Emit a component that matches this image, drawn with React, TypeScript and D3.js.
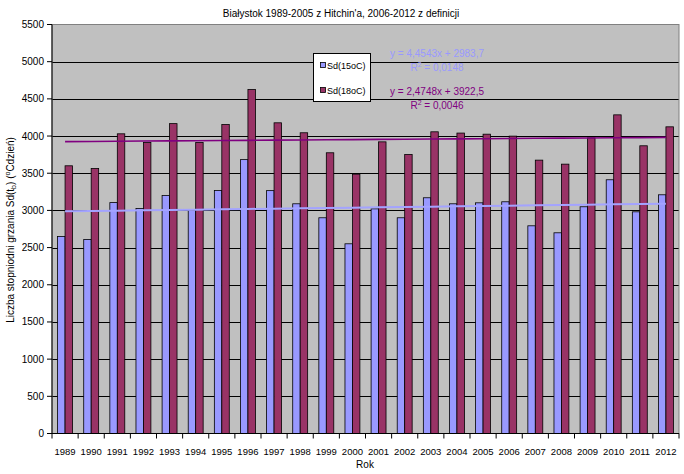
import React from "react";
import * as d3 from "d3";

const years = ["1989", "1990", "1991", "1992", "1993", "1994", "1995", "1996", "1997", "1998", "1999", "2000",
  "2001", "2002", "2003", "2004", "2005", "2006", "2007", "2008", "2009", "2010", "2011", "2012"];
const sd15 = [2650, 2610, 3105, 3026, 3201, 3005, 3268, 3683, 3266, 3089, 2901, 2551,
  3021, 2901, 3170, 3089, 3102, 3116, 2793, 2699, 3049, 3412, 2981, 3210];
const sd18 = [3600, 3564, 4030, 3913, 4167, 3913, 4155, 4626, 4178, 4044, 3775, 3487,
  3922, 3752, 4057, 4040, 4025, 3999, 3676, 3622, 3976, 4285, 3869, 4124];
const seriesNames = ["Sd(15oC)", "Sd(18oC)"];
const slopes = [4.4543, 2.4748];
const intercepts = [2983.7, 3922.5];
const equations = ["y = 4,4543x + 2983,7", "y = 2,4748x + 3922,5"];
const r2 = ["0,0148", "0,0046"];
const yTicks = [0, 500, 1000, 1500, 2000, 2500, 3000, 3500, 4000, 4500, 5000, 5500];

const W = 684;
const H = 474;
const left = 52;
const right = 679;
const top = 24.5;
const bottom = 433.5;
const font = "'Liberation Sans', Arial, sans-serif";
const colors = ["#9999FF", "#993366"];
const trendColors = ["#A3A3FF", "#800080"];
const textColors = ["#9999FF", "#800080"];

export default function App() {
  const x = d3.scaleBand<string>().domain(years).range([left, right]);
  const inner = d3
    .scaleBand<number>()
    .domain([0, 1])
    .range([0, x.bandwidth()])
    .paddingInner(0)
    .paddingOuter(0.75);
  const y = d3.scaleLinear().domain([0, 5500]).range([bottom, top]);
  const data = [sd15, sd18];

  const trend = (s: number) =>
    d3
      .line<string>()
      .x((d) => (x(d) as number) + x.bandwidth() / 2)
      .y((d, i) => y(slopes[s] * (i + 1) + intercepts[s]))(years) as string;

  return (
    <svg
      width={W}
      height={H}
      style={{ position: "absolute", left: 0, top: 0, background: "#fff" }}
      fontFamily={font}
    >
      <rect x={left} y={top} width={right - left} height={bottom - top} fill="#C0C0C0" />
      {yTicks.slice(1, -1).map((t) => (
        <line key={t} x1={left} x2={right} y1={Math.round(y(t)) + 0.5} y2={Math.round(y(t)) + 0.5} stroke="#000" strokeWidth={1} />
      ))}
      <rect x={left} y={top} width={right - left} height={bottom - top} fill="none" stroke="#808080" strokeWidth={1} />

      {data.map((vals, s) =>
        vals.map((v, i) => (
          <rect
            key={`${s}-${i}`}
            x={(x(years[i]) as number) + (inner(s) as number)}
            y={y(v)}
            width={inner.bandwidth()}
            height={bottom - y(v)}
            fill={colors[s]}
            stroke="#000"
            strokeWidth={0.8}
          />
        ))
      )}

      {[0, 1].map((s) => (
        <path key={s} d={trend(s)} fill="none" stroke={trendColors[s]} strokeWidth={s === 0 ? 2 : 1.6} />
      ))}

      {/* axes */}
      <line x1={left} x2={left} y1={top} y2={bottom} stroke="#000" />
      <line x1={left} x2={right} y1={bottom} y2={bottom} stroke="#000" />
      {yTicks.map((t) => (
        <g key={t}>
          <line x1={left - 5} x2={left} y1={y(t)} y2={y(t)} stroke="#000" />
          <text x={left - 8} y={y(t) + 3.5} fontSize={10} textAnchor="end" fill="#000">
            {t}
          </text>
        </g>
      ))}
      {years.map((yr) => (
        <g key={yr}>
          <line x1={x(yr)} x2={x(yr)} y1={bottom} y2={bottom + 5} stroke="#000" />
          <text x={(x(yr) as number) + x.bandwidth() / 2} y={bottom + 21} fontSize={9.5} textAnchor="middle" fill="#000">
            {yr}
          </text>
        </g>
      ))}
      <line x1={right} x2={right} y1={bottom} y2={bottom + 5} stroke="#000" />

      {/* titles */}
      <text x={341} y={17} fontSize={10} textAnchor="middle" fill="#000">
        Białystok 1989-2005 z Hitchin'a, 2006-2012 z definicji
      </text>
      <text x={365} y={468} fontSize={10} textAnchor="middle" fill="#000">
        Rok
      </text>
      <text transform="translate(14,230) rotate(-90)" fontSize={10} textAnchor="middle" fill="#000">
        Liczba stopniodni grzania Sd(t
        <tspan fontSize={7} dy={2}>b</tspan>
        <tspan dy={-2}>) (</tspan>
        <tspan fontSize={7} dy={-4}>o</tspan>
        <tspan dy={4}>Cdzień)</tspan>
      </text>

      {/* legend */}
      <rect x={313.5} y={53.5} width={57} height={48} fill="#fff" stroke="#000" />
      {seriesNames.map((n, s) => (
        <g key={n}>
          <rect x={320.5} y={62.5 + s * 25} width={5} height={5} fill={colors[s]} stroke="#000" strokeWidth={0.8} />
          <text x={327} y={68.5 + s * 25} fontSize={9} fill="#000">
            {n}
          </text>
        </g>
      ))}

      {/* trend equations */}
      {[0, 1].map((s) => (
        <g key={s} fill={textColors[s]} fontSize={10}>
          <text x={437} y={57 + s * 38} textAnchor="middle">
            {equations[s]}
          </text>
          <text x={437} y={71 + s * 38} textAnchor="middle">
            R<tspan fontSize={7} dy={-4}>2</tspan>
            <tspan dy={4}> = {r2[s]}</tspan>
          </text>
        </g>
      ))}
    </svg>
  );
}
